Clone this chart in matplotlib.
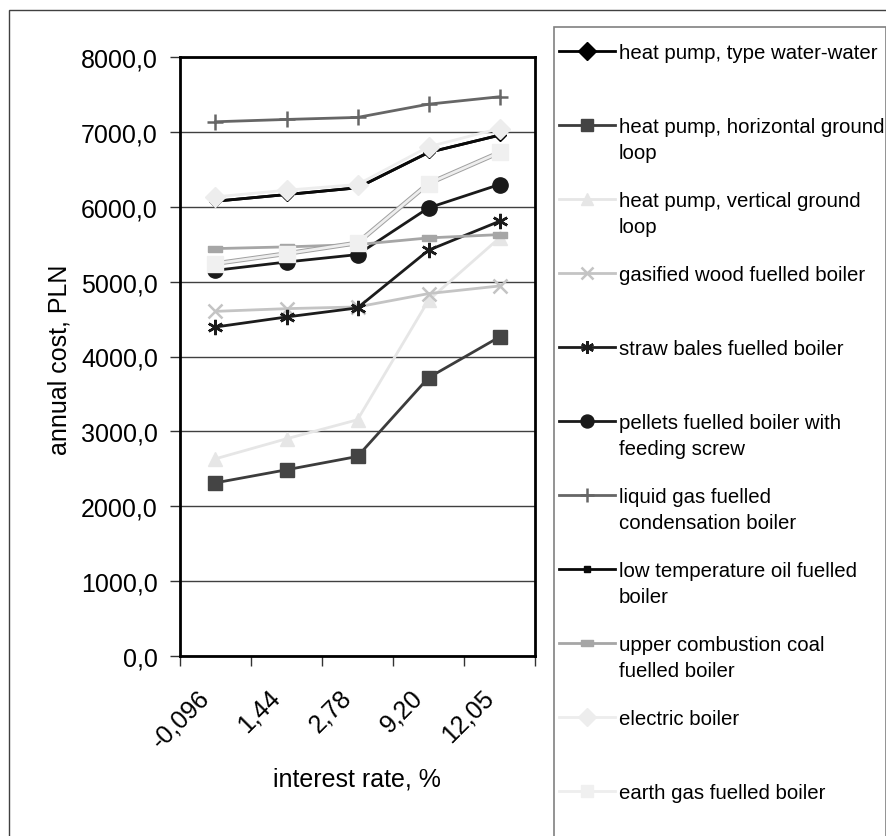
import matplotlib
matplotlib.use("Agg")
import matplotlib.pyplot as plt
import matplotlib.patheffects as pe
import matplotlib.transforms as mtransforms
from matplotlib.lines import Line2D
from matplotlib.patches import Rectangle
from matplotlib.ticker import FuncFormatter, FixedLocator

plt.rcParams['font.family'] = ['Liberation Sans', 'DejaVu Sans']

# data
rates = ['-0,096', '1,44', '2,78', '9,20', '12,05']
water_water = [6074, 6163, 6253, 6725, 6956]
horizontal = [2313, 2487, 2665, 3717, 4261]
vertical = [2634, 2901, 3155, 4750, 5584]
wood = [4603, 4639, 4662, 4840, 4942]
straw = [4394, 4528, 4649, 5419, 5806]
pellets = [5151, 5262, 5361, 5985, 6297]
liquid_gas = [7135, 7166, 7193, 7370, 7469]
oil = [6074, 6163, 6253, 6725, 6956]
coal = [5441, 5464, 5495, 5584, 5628]
electric = [6132, 6221, 6297, 6801, 7045]
earth_gas = [5241, 5374, 5517, 6310, 6725]

labels = ['heat pump, type water-water',
          'heat pump, horizontal ground\nloop',
          'heat pump, vertical ground\nloop',
          'gasified wood fuelled boiler',
          'straw bales fuelled boiler',
          'pellets fuelled boiler with\nfeeding screw',
          'liquid gas fuelled\ncondensation boiler',
          'low temperature oil fuelled\nboiler',
          'upper combustion coal\nfuelled boiler',
          'electric boiler',
          'earth gas fuelled boiler']

dash = [(-1, -0.45), (1, -0.45), (1, 0.45), (-1, 0.45), (-1, -0.45)]
asterisk = (6, 2, 0)

# (values, line colour, marker, marker colour, marker size)
series = [
    (water_water, '#000000', 'D', '#000000', 6.5),
    (horizontal, '#3c3c3c', 's', '#444444', 10.5),
    (vertical, '#e6e6e6', '^', '#e6e6e6', 10.5),
    (wood, '#c4c4c4', 'x', '#c4c4c4', 10),
    (straw, '#1c1c1c', asterisk, '#1c1c1c', 11),
    (pellets, '#1a1a1a', 'o', '#1a1a1a', 11),
    (liquid_gas, '#666666', '+', '#666666', 12),
    (oil, '#0a0a0a', 's', '#0a0a0a', 5),
    (coal, '#a6a6a6', dash, '#a6a6a6', 10),
    (electric, '#ededed', 'D', '#ededed', 10.5),
    (earth_gas, '#eeeeee', 's', '#f0f0f0', 11),
]

W, H = 887, 837
fig = plt.figure(figsize=(W / 100, H / 100), dpi=100)


def fx(px):
    return px / W


def fy(py):
    return 1 - py / H


def thin_marker(mk):
    return mk in ('x', '+') or mk == asterisk


ax = fig.add_axes([fx(180), fy(657), fx(535) - fx(180), fy(58) - fy(657)])
x = list(range(len(rates)))

for z, (vals, lc, mk, mc, ms) in enumerate(series):
    line, = ax.plot(x, vals, color=lc, lw=2.0, clip_on=False, zorder=3 + 2 * z)
    if vals is earth_gas:
        line.set_path_effects([pe.Stroke(linewidth=3.4, foreground='#a0a0a0'),
                               pe.Normal()])
    ax.plot(x, vals, ls='none', marker=mk, markersize=ms,
            markerfacecolor=mc, markeredgecolor=mc,
            markeredgewidth=1.8 if thin_marker(mk) else 1,
            clip_on=False, zorder=4 + 2 * z)

ax.set_xlim(-0.5, len(rates) - 0.5)
ax.set_ylim(0, 8000)
ax.set_yticks(range(0, 8001, 1000))
ax.yaxis.set_major_formatter(FuncFormatter(lambda v, p: f'{v:.1f}'.replace('.', ',')))
ax.grid(axis='y', color='#404040', lw=1)
ax.set_axisbelow(True)

ax.set_xticks(x)
ax.set_xticklabels(rates)
ax.xaxis.set_minor_locator(FixedLocator([i - 0.5 for i in range(len(rates) + 1)]))
ax.tick_params(axis='x', which='major', length=0, pad=27, labelsize=18)
ax.tick_params(axis='x', which='minor', length=7, width=1, color='#333333')
ax.tick_params(axis='y', length=7, width=1, color='#333333', pad=9, labelsize=18)
for lab in ax.get_xticklabels():
    lab.set_rotation(45)
    lab.set_ha('right')
    lab.set_va('center')
    lab.set_rotation_mode('anchor')
    lab.set_transform(lab.get_transform() +
                      mtransforms.ScaledTranslation(-0.10, 0, fig.dpi_scale_trans))

for s in ax.spines.values():
    s.set_linewidth(2)
    s.set_color('#000000')
    s.set_zorder(40)

fig.text(fx(357), fy(780), 'interest rate, %', fontsize=18, ha='center', va='center')
fig.text(fx(60), fy(360), 'annual cost, PLN', fontsize=18, rotation=90,
         ha='center', va='center')

# outer chart frame and legend frame
fig.add_artist(Rectangle((fx(9), fy(900)), fx(900), fy(11) - fy(900),
                         transform=fig.transFigure, fill=False,
                         edgecolor='#404040', lw=1))
fig.add_artist(Rectangle((fx(554), fy(900)), fx(886) - fx(554), fy(28) - fy(900),
                         transform=fig.transFigure, fill=False,
                         edgecolor='#808080', lw=1.2))

# legend entries
for i, (vals, lc, mk, mc, ms) in enumerate(series):
    ypx = 52 + 74 * i
    lms = 9 if i == 0 else ms * 0.85
    handle = Line2D([fx(559), fx(587), fx(615)], [fy(ypx)] * 3,
                    transform=fig.transFigure, color=lc, lw=2.0,
                    marker=mk, markevery=[1], markersize=lms,
                    markerfacecolor=mc, markeredgecolor=mc,
                    markeredgewidth=1.8 if thin_marker(mk) else 1)
    fig.add_artist(handle)
    for k, part in enumerate(labels[i].split('\n')):
        fig.text(fx(619), fy(ypx + 7 + 26 * k), part, fontsize=14.7,
                 ha='left', va='baseline')

fig.savefig('out.png', dpi=100, facecolor='white')
